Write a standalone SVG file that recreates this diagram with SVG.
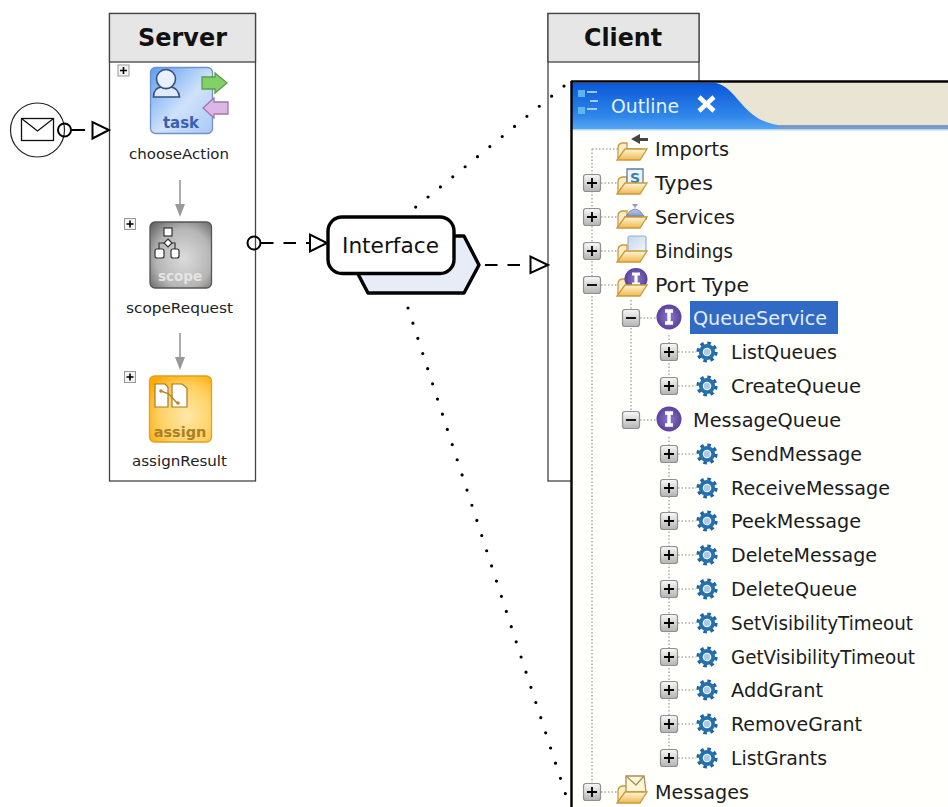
<svg xmlns="http://www.w3.org/2000/svg" width="948" height="807" viewBox="0 0 948 807">
<style>
text{font-family:"DejaVu Sans","Liberation Sans",sans-serif;fill:#111}
.pool{fill:#fff;stroke:#444;stroke-width:1.3}
.head{fill:#e6e6e6;stroke:#444;stroke-width:1.3}
.title{font-weight:bold;font-size:25px}
.lab{font-size:14.5px;fill:#222}
.t{font-size:20px;fill:#1c1c1c}
.conn{fill:none;stroke:#000;stroke-width:2}
.dash{stroke-dasharray:12.5 10}
.open{fill:#fff;stroke:#000;stroke-width:2}
.dots{fill:none;stroke:#000;stroke-width:3.2;stroke-linecap:round;stroke-dasharray:0 15.95}
.flow{fill:none;stroke:#999;stroke-width:1.6}
.tree{fill:none;stroke:#aaa;stroke-width:1.5;stroke-dasharray:1.5 2}
.mini{fill:#f4f4f4;stroke:#999;stroke-width:1}
.minus{fill:none;stroke:#000;stroke-width:1.6}
.icn{font-weight:bold;font-size:14px;text-anchor:middle}
</style>
<defs>
<linearGradient id="btn" x1="0" y1="0" x2="0" y2="1"><stop offset="0" stop-color="#f8f8f8"/><stop offset="1" stop-color="#b4b4b4"/></linearGradient>
<linearGradient id="taskG" x1="0" y1="0" x2="1" y2="1"><stop offset="0" stop-color="#5d9cf0"/><stop offset=".55" stop-color="#cfe2fb"/><stop offset="1" stop-color="#a9c9f5"/></linearGradient>
<radialGradient id="scopeG" cx=".55" cy=".55" r=".75"><stop offset="0" stop-color="#dcdcdc"/><stop offset=".6" stop-color="#b5b5b5"/><stop offset="1" stop-color="#5e5e5e"/></radialGradient>
<radialGradient id="assignG" cx=".6" cy=".6" r=".75"><stop offset="0" stop-color="#ffe8a8"/><stop offset=".6" stop-color="#ffd060"/><stop offset="1" stop-color="#ffa800"/></radialGradient>
<linearGradient id="headG" x1="0" y1="0" x2="0" y2="1"><stop offset="0" stop-color="#0a58d8"/><stop offset=".7" stop-color="#2f86ea"/><stop offset="1" stop-color="#5aa8f2"/></linearGradient>
<linearGradient id="folderG" x1="0" y1="0" x2="0" y2="1"><stop offset="0" stop-color="#fff6d8"/><stop offset="1" stop-color="#f0b850"/></linearGradient>
<linearGradient id="paperG" x1="0" y1="0" x2="1" y2="1"><stop offset="0" stop-color="#c3d6ee"/><stop offset="1" stop-color="#f4f7fb"/></linearGradient>
<linearGradient id="bellG" x1="0" y1="0" x2="0" y2="1"><stop offset="0" stop-color="#c6d4ee"/><stop offset="1" stop-color="#7f95cf"/></linearGradient>
<radialGradient id="purpleG"><stop offset="0" stop-color="#8d7cc8"/><stop offset="1" stop-color="#5b3f9e"/></radialGradient>
<g id="plusBtn"><rect x="-8.5" y="-8.5" width="17" height="17" rx="2.5" fill="url(#btn)" stroke="#8f8f8f" stroke-width="1.2"/><path d="M-5 0H5M0-5V5" stroke="#000" stroke-width="1.8"/></g>
<g id="minusBtn"><rect x="-8.5" y="-8.5" width="17" height="17" rx="2.5" fill="url(#btn)" stroke="#8f8f8f" stroke-width="1.2"/><path d="M-5 0H5" stroke="#000" stroke-width="1.8"/></g>
<g id="miniPlus"><rect x="-5.500" y="-5.500" width="11" height="11" class="mini"/><path d="M-3.500 0H3.500M0-3.500V3.500" class="minus"/></g>
<g id="folderBack"><path d="M-14 10V-1q0-4 4-5h5v6h15v4z" fill="#fbecc4" stroke="#c99a3c" stroke-width="1.300"/></g>
<g id="folderFront"><path d="M-15 11L-7 0H15L8 11z" fill="url(#folderG)" stroke="#c99a3c" stroke-width="1.300"/></g>
<g id="gear"><circle r="9" fill="none" stroke="#1f639f" stroke-width="3.200" stroke-dasharray="3.500 3.570"/><circle r="6.200" fill="none" stroke="#2470b0" stroke-width="3.800"/><circle r="3.200" fill="#a9c9e6"/></g>
<g id="iface"><circle r="12.500" fill="url(#purpleG)"/><path d="M-4-6H4M-4 6H4M0-6V6" stroke="#fff" stroke-width="3.400" fill="none"/></g>
</defs>

<g id="client"><rect class="pool" x="548" y="13.500" width="151" height="467.500"/><rect class="head" x="548" y="13.500" width="151" height="48.500"/><text class="title" x="584" y="45.500" textLength="78" lengthAdjust="spacingAndGlyphs">Client</text></g>

<g id="server"><rect class="pool" x="109.500" y="13.500" width="146" height="467.500"/><rect class="head" x="109.500" y="13.500" width="146" height="48.500"/><text class="title" x="138" y="46" textLength="89" lengthAdjust="spacingAndGlyphs">Server</text></g>

<g id="chooseAction">
<use href="#miniPlus" x="123.500" y="70.500"/>
<rect x="150.500" y="67.500" width="62" height="66" rx="5" fill="url(#taskG)" stroke="#6f93c9" stroke-width="1.300"/>
<path d="M153.500 97q0-9 8-10 5 3 9 0 8 1 9 10z" fill="#dfeafb" stroke="#35507e" stroke-width="1.600"/>
<circle cx="166" cy="79" r="9.500" fill="#e8f1fd" stroke="#35507e" stroke-width="1.600"/>
<path d="M202 77H215V73L227 83L215 93V89H202z" fill="#82d068" stroke="#5b9e48" stroke-width="1.300"/>
<path d="M203 108L214 98V102H228V114H214V118z" fill="#dcb6e6" stroke="#9d78ad" stroke-width="1.300"/>
<text class="icn" x="181" y="128" style="fill:#3a5fb0;font-size:15px">task</text>
<text class="lab" x="129" y="159" textLength="100" lengthAdjust="spacingAndGlyphs">chooseAction</text>
</g>
<g id="scopeRequest">
<use href="#miniPlus" x="130" y="224"/>
<rect x="150" y="222" width="61.500" height="66" rx="5" fill="url(#scopeG)" stroke="#555" stroke-width="1.300"/>
<g fill="#fff" stroke="#333" stroke-width="1.200"><path d="M168 243h-9v6M168 243h7v6" fill="none"/><rect x="164" y="228" width="8" height="8"/><path d="M168 239l4 4-4 4-4-4z"/><rect x="155" y="249" width="9" height="9" rx="2"/><rect x="171" y="249" width="8" height="9" rx="2"/></g>
<text class="icn" x="180" y="281" style="fill:#e4e4e4;font-size:13.500px">scope</text>
<text class="lab" x="126" y="313" textLength="107" lengthAdjust="spacingAndGlyphs">scopeRequest</text>
</g>
<g id="assignResult">
<use href="#miniPlus" x="130" y="377"/>
<rect x="149.500" y="376" width="62" height="66" rx="5" fill="url(#assignG)" stroke="#e0a020" stroke-width="1.300"/>
<g fill="#fff" stroke="#a77a20" stroke-width="1.200"><path d="M155 384h10l3 3v20h-13z"/><path d="M172 384h10l5 4v19h-15z"/></g>
<path d="M161 391l8 3 8 9" stroke="#b8862c" stroke-width="1.400" fill="none"/><circle cx="161" cy="391" r="1.800" fill="#b8862c"/><circle cx="178" cy="403" r="1.800" fill="#b8862c"/>
<text class="icn" x="180" y="437" style="fill:#a97f2a;font-size:14.500px">assign</text>
<text class="lab" x="132" y="466" textLength="95" lengthAdjust="spacingAndGlyphs">assignResult</text>
</g>

<g id="start"><circle cx="37.500" cy="130" r="27" fill="#fff" stroke="#222" stroke-width="1.200"/><rect x="21.500" y="118.500" width="32" height="22" fill="#fff" stroke="#111" stroke-width="1.300"/><path d="M21.500 118.500L37.500 131L53.500 118.500" fill="none" stroke="#111" stroke-width="1.300"/></g>

<g id="interface">
<path d="M358 274L368 293H464L479 265L464 236H445V274z" fill="#e8ecf7"/>
<path d="M358 274L368 293H464L479 265L464 236H450" fill="none" stroke="#000" stroke-width="3.400" stroke-linejoin="round"/>
<rect x="328" y="217" width="126" height="56.500" rx="14" fill="#fff" stroke="#000" stroke-width="3.400"/>
<text x="342" y="252.500" font-size="21" textLength="97" lengthAdjust="spacingAndGlyphs">Interface</text>
</g>

<g id="panel">
<rect x="571" y="81.500" width="377" height="726" fill="#fffffb"/>
<path d="M572 83H948V130H572z" fill="#e9e4d4"/>
<path d="M776 125H948V130H776z" fill="#7a9cc4"/>
<path d="M572 83H716C738 88 742 120 778 125L780 130H572z" fill="url(#headG)"/>
<path d="M572 130H948" stroke="#cfe6fb" stroke-width="1.500"/>
<rect x="578" y="90" width="7" height="7" fill="#5fb4f0"/><rect x="578" y="107" width="7" height="7" fill="#5fb4f0"/>
<path d="M587 92h10M587 109h10M590 101h8" stroke="#cfe6fb" stroke-width="1.500"/>
<text x="611" y="113" font-size="19.500" style="fill:#e8f2fd" textLength="68" lengthAdjust="spacingAndGlyphs">Outline</text>
<path d="M699 97L714 111M714 97L699 111" stroke="#fff" stroke-width="4.500"/>
<path d="M571 81.500H948M571.500 81V807" fill="none" stroke="#000" stroke-width="2.400"/>

<rect x="690" y="301" width="148" height="33" fill="#316ac5"/>

<path class="tree" d="M592 149V785M592 149H620M601 183H618M601 217H618M601 251H618M601 285H618M601 792H618M631 300V412M640 318H656M640 420H656M669 335V378M669 437V750M678 352H696M678 386H696M678 454H696M678 488H696M678 521H696M678 555H696M678 589H696M678 623H696M678 657H696M678 690H696M678 724H696M678 758H696"/>

<use href="#folderBack" x="632" y="149"/><use href="#folderBack" x="632" y="183"/><use href="#folderBack" x="632" y="217"/><use href="#folderBack" x="632" y="251"/><use href="#folderBack" x="632" y="285"/><use href="#folderBack" x="632" y="792"/>
<path d="M631 139l9-5v4h8v3h-8v3z" fill="#444"/>
<path d="M627 169h16v16h-16z" fill="#eef3fa" stroke="#5a7f9c" stroke-width="1.300"/><text x="635" y="183" font-size="14" font-weight="bold" text-anchor="middle" style="fill:#3d7fb0">S</text>
<path d="M626 216q9-14 18 0z" fill="url(#bellG)" stroke="#7b88a8" stroke-width="1"/><path d="M632 204h6l-3 4z" fill="#8f9dc0"/><path d="M624 218h23" stroke="#3a2a20" stroke-width="2.600"/>
<rect x="628" y="236" width="18" height="17" rx="2" fill="url(#paperG)" stroke="#9ab0cc" stroke-width="1.200"/>
<ellipse cx="636" cy="279" rx="11.500" ry="11" fill="url(#purpleG)"/><path d="M632 274H640M632 284H640M636 274V284" stroke="#fff" stroke-width="3.200" fill="none"/>
<path d="M626 776h18l2 16h-20z" fill="#fff6d8" stroke="#a98f58" stroke-width="1.300"/><path d="M626 776l10 9 8-9" fill="none" stroke="#a98f58" stroke-width="1.300"/>
<use href="#folderFront" x="632" y="149"/><use href="#folderFront" x="632" y="183"/><use href="#folderFront" x="632" y="217"/><use href="#folderFront" x="632" y="251"/><use href="#folderFront" x="632" y="285"/><use href="#folderFront" x="632" y="792"/>

<use href="#plusBtn" x="592" y="183"/><use href="#plusBtn" x="592" y="217"/><use href="#plusBtn" x="592" y="251"/><use href="#minusBtn" x="592" y="285"/><use href="#plusBtn" x="592" y="792"/>
<use href="#minusBtn" x="631" y="318"/><use href="#minusBtn" x="631" y="420"/>
<use href="#iface" x="669" y="317"/><use href="#iface" x="669" y="419"/>
<use href="#plusBtn" x="669" y="352"/><use href="#plusBtn" x="669" y="386"/><use href="#plusBtn" x="669" y="454"/><use href="#plusBtn" x="669" y="488"/><use href="#plusBtn" x="669" y="521"/><use href="#plusBtn" x="669" y="555"/><use href="#plusBtn" x="669" y="589"/><use href="#plusBtn" x="669" y="623"/><use href="#plusBtn" x="669" y="657"/><use href="#plusBtn" x="669" y="690"/><use href="#plusBtn" x="669" y="724"/><use href="#plusBtn" x="669" y="758"/>
<use href="#gear" x="707" y="352"/><use href="#gear" x="707" y="386"/><use href="#gear" x="707" y="454"/><use href="#gear" x="707" y="488"/><use href="#gear" x="707" y="521"/><use href="#gear" x="707" y="555"/><use href="#gear" x="707" y="589"/><use href="#gear" x="707" y="623"/><use href="#gear" x="707" y="657"/><use href="#gear" x="707" y="690"/><use href="#gear" x="707" y="724"/><use href="#gear" x="707" y="758"/>

<text class="t" x="655" y="156" textLength="74" lengthAdjust="spacingAndGlyphs">Imports</text>
<text class="t" x="655" y="190" textLength="58" lengthAdjust="spacingAndGlyphs">Types</text>
<text class="t" x="655" y="224" textLength="80" lengthAdjust="spacingAndGlyphs">Services</text>
<text class="t" x="655" y="258" textLength="78" lengthAdjust="spacingAndGlyphs">Bindings</text>
<text class="t" x="655" y="292" textLength="94" lengthAdjust="spacingAndGlyphs">Port Type</text>
<text class="t" x="693" y="325" textLength="134" lengthAdjust="spacingAndGlyphs" style="fill:#e4eefb">QueueService</text>
<text class="t" x="731" y="359" textLength="106" lengthAdjust="spacingAndGlyphs">ListQueues</text>
<text class="t" x="731" y="393" textLength="130" lengthAdjust="spacingAndGlyphs">CreateQueue</text>
<text class="t" x="693" y="427" textLength="148" lengthAdjust="spacingAndGlyphs">MessageQueue</text>
<text class="t" x="731" y="461" textLength="131" lengthAdjust="spacingAndGlyphs">SendMessage</text>
<text class="t" x="731" y="495" textLength="159" lengthAdjust="spacingAndGlyphs">ReceiveMessage</text>
<text class="t" x="731" y="528" textLength="130" lengthAdjust="spacingAndGlyphs">PeekMessage</text>
<text class="t" x="731" y="562" textLength="146" lengthAdjust="spacingAndGlyphs">DeleteMessage</text>
<text class="t" x="731" y="596" textLength="126" lengthAdjust="spacingAndGlyphs">DeleteQueue</text>
<text class="t" x="731" y="630" textLength="182" lengthAdjust="spacingAndGlyphs">SetVisibilityTimeout</text>
<text class="t" x="731" y="664" textLength="184" lengthAdjust="spacingAndGlyphs">GetVisibilityTimeout</text>
<text class="t" x="731" y="697" textLength="92" lengthAdjust="spacingAndGlyphs">AddGrant</text>
<text class="t" x="731" y="731" textLength="131" lengthAdjust="spacingAndGlyphs">RemoveGrant</text>
<text class="t" x="731" y="765" textLength="96" lengthAdjust="spacingAndGlyphs">ListGrants</text>
<text class="t" x="655" y="799" textLength="94" lengthAdjust="spacingAndGlyphs">Messages</text>
</g>

<g id="connectors">
<path class="flow" d="M180 180V205M180 333V358"/>
<path d="M175 204h10l-5 13zM175 357h10l-5 13z" fill="#999"/>
<circle cx="64.500" cy="130" r="6.500" class="conn"/><path class="conn" d="M71 130H85"/><path class="open" d="M92.500 122V138.500L109 130z"/>
<circle cx="254" cy="243" r="6.500" class="conn"/><path class="conn dash" d="M261 243H310"/><path class="open" d="M310 234.500V251.500L327 243z"/>
<path class="conn dash" d="M485 265H530"/><path class="open" d="M530.500 256.500V273L548 265z"/>
<path class="dots" d="M415.700 207.100L564.500 85.700"/>
<path class="dots" d="M408 308L565.500 794"/>
</g>
</svg>
